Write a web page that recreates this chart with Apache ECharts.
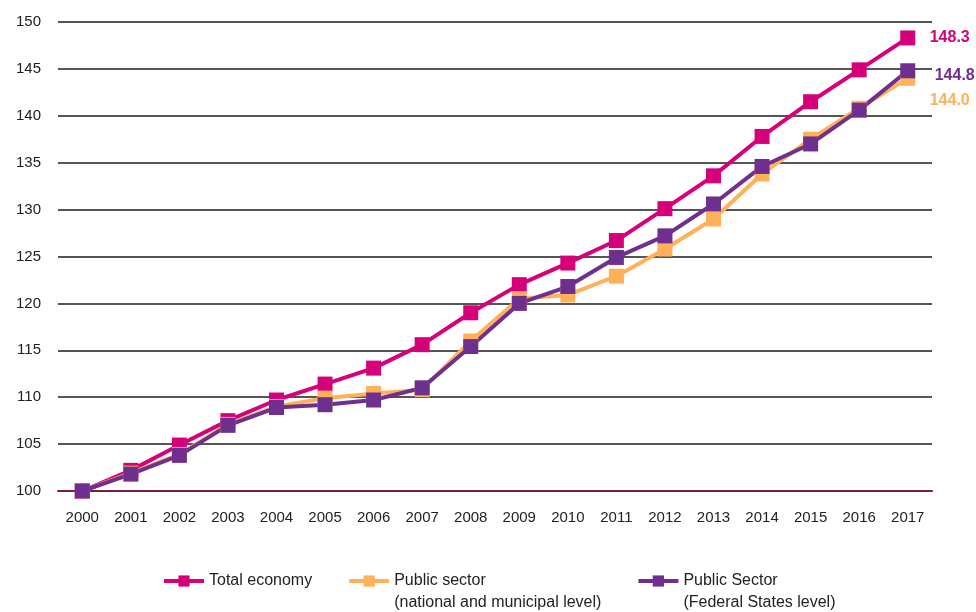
<!DOCTYPE html>
<html>
<head>
<meta charset="utf-8">
<script src="https://cdn.jsdelivr.net/npm/echarts@6/dist/echarts.min.js"></script>
<style>
  html, body { margin: 0; padding: 0; background: #fff; }
  #chart { width: 976px; height: 612px; }
</style>
</head>
<body>
<div id="chart"></div>
<script>
var years = ['2000','2001','2002','2003','2004','2005','2006','2007','2008',
  '2009','2010','2011','2012','2013','2014','2015','2016','2017'];
var totalEconomy = [100, 102.2, 104.9, 107.5, 109.7, 111.4, 113.1, 115.6, 119.0,
  122.0, 124.3, 126.7, 130.1, 133.6, 137.8, 141.5, 144.9, 148.3];
var publicNational = [100, 101.9, 103.9, 107.1, 109.0, 109.9, 110.4, 110.8, 116.0,
  120.5, 120.9, 122.9, 125.8, 129.0, 133.8, 137.5, 140.8, 144.0];
var publicFederal = [100, 101.8, 103.8, 107.0, 108.9, 109.2, 109.7, 111.0, 115.4,
  120.0, 121.8, 124.9, 127.2, 130.6, 134.6, 137.0, 140.6, 144.8];
var seriesNames = ['Total economy',
  'Public sector\n(national and municipal level)',
  'Public Sector\n(Federal States level)'];

var colMagenta = '#d6007a';
var colOrange = '#ffb15a';
var colPurple = '#6e2f8e';

function lineSeries(name, data, color, offset) {
  return {
    name: name,
    type: 'line',
    data: data,
    symbol: 'rect',
    symbolSize: 15,
    lineStyle: { color: color, width: 4 },
    itemStyle: { color: color },
    endLabel: {
      show: true,
      color: color,
      fontWeight: 'bold',
      fontSize: 16,
      fontFamily: 'Liberation Sans',
      offset: offset,
      formatter: function (p) { return p.value.toFixed(1); }
    }
  };
}

var chart = echarts.init(document.getElementById('chart'));
chart.setOption({
  animation: false,
  textStyle: { fontFamily: 'Liberation Sans' },
  grid: { left: 58, right: 44, top: 22, bottom: 121 },
  legend: {
    top: 543,
    left: 157,
    itemGap: 35,
    itemWidth: 40,
    itemHeight: 14,
    lineStyle: { width: 4 },
    textStyle: {
      fontSize: 16,
      color: '#222',
      fontFamily: 'Liberation Sans',
      lineHeight: 22
    },
    // blank line on top so the first line of a two-line name sits beside the icon
    formatter: function (name) {
      return name.indexOf('\n') >= 0 ? ' \n' + name : name;
    },
    data: seriesNames
  },
  xAxis: {
    type: 'category',
    data: years,
    boundaryGap: true,
    axisLine: { lineStyle: { color: '#7a1c48', width: 2 } },
    axisTick: { show: false },
    axisLabel: { color: '#222', fontSize: 15, margin: 19 }
  },
  yAxis: {
    type: 'value',
    min: 100,
    max: 150,
    interval: 5,
    axisLine: { show: false },
    axisTick: { show: false },
    axisLabel: { color: '#222', fontSize: 15, margin: 17 },
    splitLine: { lineStyle: { color: '#555', width: 2 } }
  },
  series: [
    lineSeries(seriesNames[0], totalEconomy, colMagenta, [14, 0]),
    lineSeries(seriesNames[1], publicNational, colOrange, [14, 22]),
    lineSeries(seriesNames[2], publicFederal, colPurple, [19, 5])
  ]
});
</script>
</body>
</html>
